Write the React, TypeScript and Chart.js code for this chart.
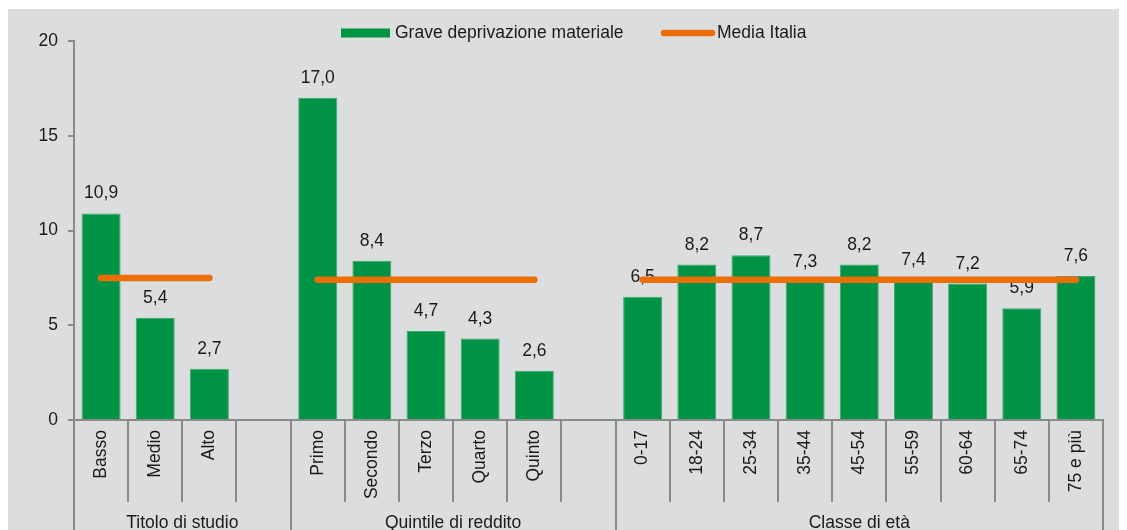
import React, { useEffect, useRef } from "react";
import { Chart, registerables } from "chart.js";

Chart.register(...registerables);

const categories = [
  "Basso", "Medio", "Alto", "",
  "Primo", "Secondo", "Terzo", "Quarto", "Quinto", "",
  "0-17", "18-24", "25-34", "35-44", "45-54", "55-59", "60-64", "65-74", "75 e più",
];
const deprivazione = [
  10.9, 5.4, 2.7, null,
  17.0, 8.4, 4.7, 4.3, 2.6, null,
  6.5, 8.2, 8.7, 7.3, 8.2, 7.4, 7.2, 5.9, 7.6,
];
const mediaItalia = [
  7.5, 7.5, 7.5, null,
  7.4, 7.4, 7.4, 7.4, 7.4, null,
  7.4, 7.4, 7.4, 7.4, 7.4, 7.4, 7.4, 7.4, 7.4,
];
const groupLabels = ["Titolo di studio", "Quintile di reddito", "Classe di età"];
const groupSizes = [4, 6, 9];
const seriesNames = ["Grave deprivazione materiale", "Media Italia"];
const yMin = 0;
const yMax = 20;
const yStep = 5;

const W = 1127;
const H = 560;
const FONT = "17.5px 'Liberation Sans', Arial, sans-serif";
const GREEN = "#009345";
const ORANGE = "#EC6F05";
const AXIS = "#8a8a8a";
const TEXT = "#1a1a1a";
const BG = "#dcdddf";

const fmt = (v: number) => v.toFixed(1).replace(".", ",");

const customPlugin = {
  id: "custom",
  beforeDraw(chart: any) {
    const ctx = chart.ctx;
    ctx.save();
    ctx.fillStyle = BG;
    ctx.fillRect(0, 1, chart.width, chart.height);
    ctx.restore();
  },
  afterDatasetDraw(chart: any, args: any) {
    if (args.index !== 0) return;
    const ctx = chart.ctx;
    const meta = chart.getDatasetMeta(0);
    ctx.save();
    ctx.font = FONT;
    ctx.fillStyle = TEXT;
    ctx.textAlign = "center";
    ctx.textBaseline = "alphabetic";
    meta.data.forEach((el: any, i: number) => {
      const v = deprivazione[i];
      if (v === null || v === undefined) return;
      ctx.fillText(fmt(v), el.x, el.y - 15);
    });
    ctx.restore();
  },
  afterDraw(chart: any) {
    const ctx = chart.ctx;
    const ca = chart.chartArea;
    const n = categories.length;
    const w = (ca.right - ca.left) / n;
    ctx.save();
    ctx.strokeStyle = AXIS;
    ctx.lineWidth = 2;
    const boundaries = new Set<number>();
    let acc = 0;
    boundaries.add(0);
    groupSizes.forEach((s) => {
      acc += s;
      boundaries.add(acc);
    });
    for (let i = 0; i <= n; i++) {
      const x = Math.round(ca.left + i * w);
      const yEnd = boundaries.has(i) ? chart.height : ca.bottom + 82;
      ctx.beginPath();
      ctx.moveTo(x, ca.bottom);
      ctx.lineTo(x, yEnd);
      ctx.stroke();
    }
    // group labels
    ctx.font = FONT;
    ctx.fillStyle = TEXT;
    ctx.textAlign = "center";
    ctx.textBaseline = "middle";
    let start = 0;
    groupSizes.forEach((s, gi) => {
      const x0 = ca.left + start * w;
      const x1 = ca.left + (start + s) * w;
      ctx.fillText(groupLabels[gi], (x0 + x1) / 2, ca.bottom + 103);
      start += s;
    });
    // legend
    const ly = 25;
    ctx.fillStyle = GREEN;
    ctx.fillRect(333, ly - 4.5, 49, 9);
    ctx.fillStyle = TEXT;
    ctx.textAlign = "left";
    ctx.fillText(seriesNames[0], 387, ly);
    ctx.strokeStyle = ORANGE;
    ctx.lineWidth = 6.5;
    ctx.lineCap = "round";
    ctx.beginPath();
    ctx.moveTo(656, ly);
    ctx.lineTo(704, ly);
    ctx.stroke();
    ctx.fillText(seriesNames[1], 709, ly);
    ctx.restore();
  },
};

export default function App() {
  const ref = useRef<HTMLCanvasElement>(null);
  useEffect(() => {
    document.body.style.overflow = "hidden";
    document.documentElement.style.overflow = "hidden";
    if (!ref.current) return;
    const chart = new Chart(ref.current, {
      type: "bar",
      data: {
        labels: categories,
        datasets: [
          {
            type: "bar",
            label: seriesNames[0],
            data: deprivazione as any,
            backgroundColor: GREEN,
            borderColor: "#3fa86c",
            borderWidth: 1,
            barPercentage: 0.72,
            categoryPercentage: 1,
            order: 1,
          },
          {
            type: "line",
            label: seriesNames[1],
            data: mediaItalia as any,
            borderColor: ORANGE,
            borderWidth: 6.5,
            borderCapStyle: "round",
            pointRadius: 0,
            spanGaps: false,
            fill: false,
            order: 0,
          } as any,
        ],
      },
      options: {
        responsive: false,
        animation: false,
        devicePixelRatio: 1,
        layout: { padding: { top: 33, right: 32, left: 0, bottom: 0 } },
        plugins: {
          legend: { display: false },
          tooltip: { enabled: false },
        },
        scales: {
          x: {
            type: "category",
            offset: true,
            grid: { display: false, drawTicks: false },
            border: { display: true, color: AXIS, width: 2 },
            ticks: {
              font: { family: "'Liberation Sans', Arial, sans-serif", size: 17.5 },
              color: TEXT,
              minRotation: 90,
              maxRotation: 90,
              autoSkip: false,
              padding: 10,
            },
            afterFit: (s: any) => {
              s.height = H - 412;
            },
          },
          y: {
            min: yMin,
            max: yMax,
            grid: {
              drawOnChartArea: false,
              drawTicks: true,
              tickLength: 6,
              color: AXIS,
              lineWidth: 2,
            },
            border: { display: true, color: AXIS, width: 2 },
            ticks: {
              stepSize: yStep,
              font: { family: "'Liberation Sans', Arial, sans-serif", size: 17.5 },
              color: TEXT,
              padding: 10,
            },
            afterFit: (s: any) => {
              s.width = 66;
            },
          },
        },
      },
      plugins: [customPlugin],
    });
    return () => chart.destroy();
  }, []);
  return (
    <div style={{ width: W + "px", height: H + "px" }}>
      <canvas
        ref={ref}
        width={W}
        height={H}
        style={{ display: "block", width: W + "px", height: H + "px" }}
      />
    </div>
  );
}
